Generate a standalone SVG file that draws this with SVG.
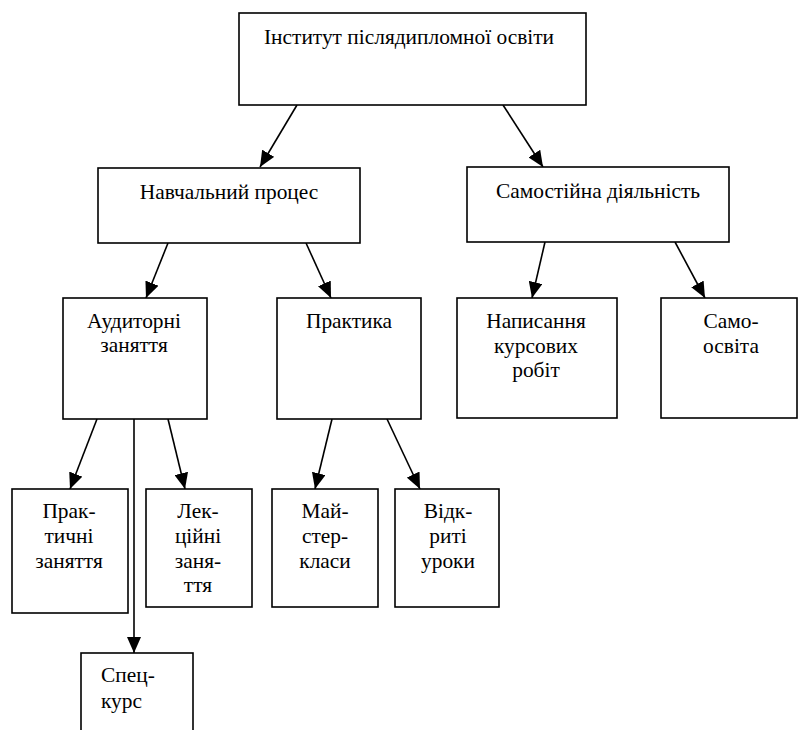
<svg xmlns="http://www.w3.org/2000/svg" width="800" height="730" viewBox="0 0 800 730">
<defs>
<style>
.box{fill:#fff;stroke:#000;stroke-width:1.6}
text{font-family:'Liberation Serif','Times New Roman',serif;font-size:21.4px;fill:#000;text-anchor:middle}
text.tl{text-anchor:start}
.c line{stroke:#000;stroke-width:1.6}
</style>
<marker id="ah" markerUnits="userSpaceOnUse" markerWidth="16" markerHeight="14" refX="16" refY="7" orient="auto">
<path d="M0,0 L16,7 L0,14 z" fill="#000"/>
</marker>
</defs>
<rect width="800" height="730" fill="#fff"/>
<g class="c" id="connectors">
<line x1="297" y1="105" x2="260" y2="167" marker-end="url(#ah)"/>
<line x1="503" y1="105" x2="543" y2="167" marker-end="url(#ah)"/>
<line x1="168" y1="243" x2="146" y2="298" marker-end="url(#ah)"/>
<line x1="306" y1="243" x2="331" y2="298" marker-end="url(#ah)"/>
<line x1="545" y1="242" x2="532" y2="298" marker-end="url(#ah)"/>
<line x1="675" y1="242" x2="705" y2="298" marker-end="url(#ah)"/>
<line x1="97" y1="419" x2="70" y2="489" marker-end="url(#ah)"/>
<line x1="134" y1="419" x2="134" y2="653" marker-end="url(#ah)"/>
<line x1="168" y1="419" x2="185" y2="489" marker-end="url(#ah)"/>
<line x1="332" y1="419" x2="315" y2="489" marker-end="url(#ah)"/>
<line x1="387" y1="419" x2="420" y2="489" marker-end="url(#ah)"/>
</g>
<g id="institute"><rect class="box" x="239" y="13" width="347" height="92"/><text x="409" y="44">Інститут післядипломної освіти</text></g>
<g id="navchalnyi"><rect class="box" x="98" y="168" width="262" height="75"/><text x="229" y="199">Навчальний процес</text></g>
<g id="samostiina"><rect class="box" x="467" y="167" width="262" height="75"/><text x="598" y="198">Самостійна діяльність</text></g>
<g id="audytorni"><rect class="box" x="63" y="298" width="144" height="121"/><text x="134" y="328">Аудиторні</text><text x="134" y="352">заняття</text></g>
<g id="praktyka"><rect class="box" x="277" y="298" width="144" height="121"/><text x="349" y="328">Практика</text></g>
<g id="napysannia"><rect class="box" x="457" y="298" width="160" height="120"/><text x="536" y="328">Написання</text><text x="536" y="353">курсових</text><text x="536" y="377">робіт</text></g>
<g id="samoosvita"><rect class="box" x="661" y="298" width="136" height="120"/><text x="731" y="328">Само-</text><text x="731" y="353">освіта</text></g>
<g id="praktychni"><rect class="box" x="12" y="489" width="116" height="124"/><text x="69" y="518">Прак-</text><text x="69" y="543">тичні</text><text x="69" y="568">заняття</text></g>
<g id="lektsiini"><rect class="box" x="146" y="489" width="106" height="118"/><text x="198" y="518">Лек-</text><text x="198" y="543">ційні</text><text x="198" y="568">заня-</text><text x="198" y="592">ття</text></g>
<g id="maister"><rect class="box" x="272" y="489" width="106" height="118"/><text x="325" y="518">Май-</text><text x="325" y="543">стер-</text><text x="325" y="568">класи</text></g>
<g id="vidkryti"><rect class="box" x="395" y="489" width="104" height="118"/><text x="448" y="518">Відк-</text><text x="448" y="543">риті</text><text x="448" y="568">уроки</text></g>
<g id="spetskurs"><rect class="box" x="81" y="653" width="112" height="90"/><text class="tl" x="101" y="682">Спец-</text><text class="tl" x="101" y="708">курс</text></g>
</svg>
